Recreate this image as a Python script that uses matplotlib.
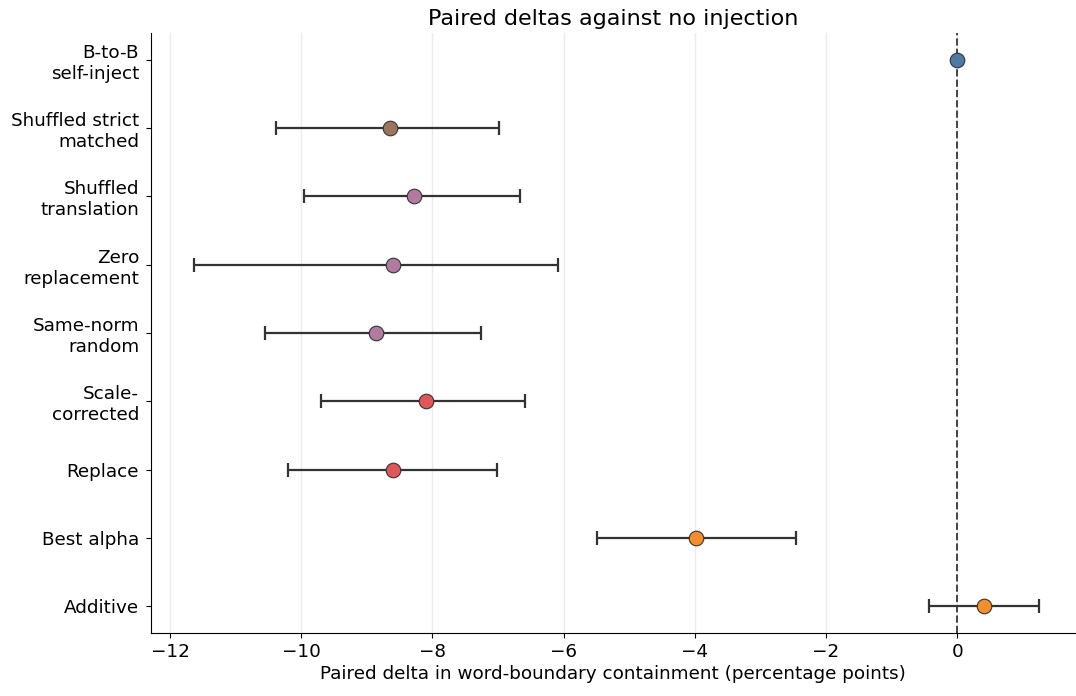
import matplotlib
matplotlib.use("Agg")
import matplotlib.pyplot as plt

categories = ["B-to-B\nself-inject", "Shuffled strict\nmatched", "Shuffled\ntranslation",
              "Zero\nreplacement", "Same-norm\nrandom", "Scale-\ncorrected", "Replace",
              "Best alpha", "Additive"]
means = [0.0, -8.65, -8.28, -8.60, -8.86, -8.10, -8.60, -3.98, 0.41]
lows = [None, -10.38, -9.96, -11.63, -10.55, -9.70, -10.20, -5.49, -0.43]
highs = [None, -6.98, -6.66, -6.08, -7.26, -6.59, -7.01, -2.45, 1.25]
colors = ["#4e79a7", "#9c755f", "#b07aa1", "#b07aa1", "#b07aa1", "#e15759", "#e15759",
          "#f28e2b", "#f28e2b"]

fig = plt.figure(figsize=(10.76, 6.96), dpi=100)
ax = fig.add_axes([0.1403, 0.0905, 0.859, 0.862])

for i, (m, lo, hi, c) in enumerate(zip(means, lows, highs, colors)):
    if lo is not None:
        ax.errorbar(m, i, xerr=[[m - lo], [hi - m]], fmt="none", ecolor="#333333",
                    elinewidth=1.6, capsize=5, capthick=1.6, zorder=2)
    ax.plot(m, i, "o", color=c, markersize=10.5, markeredgecolor="#333333",
            markeredgewidth=0.8, zorder=3)

ax.axvline(0, color="#444444", linestyle="--", linewidth=1.4, zorder=1)
ax.set_yticks(range(len(categories)))
ax.set_yticklabels(categories, fontsize=13.2)
ax.set_ylim(8.39, -0.39)
ax.set_xlim(-12.29, 1.80)
ax.set_xticks([-12, -10, -8, -6, -4, -2, 0])
ax.tick_params(axis="x", labelsize=13.2)
ax.tick_params(axis="y", pad=5)
ax.grid(axis="x", color="#ebebeb", linewidth=1)
ax.set_axisbelow(True)
ax.spines["top"].set_visible(False)
ax.spines["right"].set_visible(False)
ax.set_xlabel("Paired delta in word-boundary containment (percentage points)", fontsize=13.2, labelpad=3)
ax.set_title("Paired deltas against no injection", fontsize=16, pad=6)

fig.savefig("out.png", dpi=100)
